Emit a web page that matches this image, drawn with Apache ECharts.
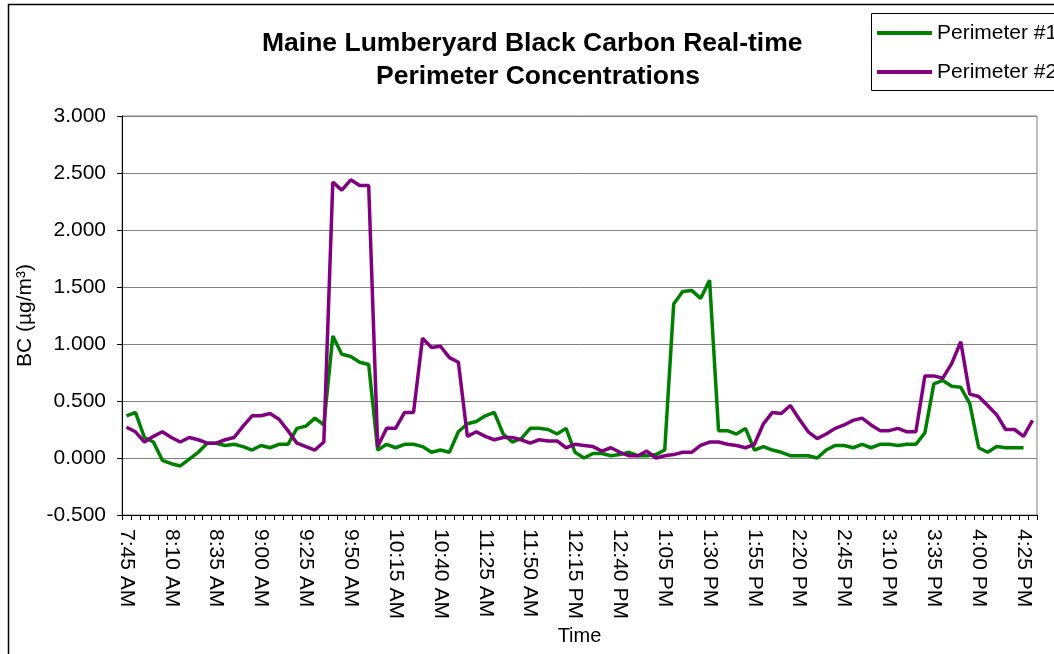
<!DOCTYPE html>
<html>
<head>
<meta charset="utf-8">
<script src="https://cdn.jsdelivr.net/npm/echarts@6/dist/echarts.min.js"></script>
<style>
  html, body { margin: 0; padding: 0; background: #fff; }
  #chart { width: 1054px; height: 654px; }
</style>
</head>
<body>
<div id="chart"></div>
<script>
var timeArr = ['7:45 AM','7:50 AM','7:55 AM','8:00 AM','8:05 AM','8:10 AM','8:15 AM','8:20 AM','8:25 AM','8:30 AM',
	'8:35 AM','8:40 AM','8:45 AM','8:50 AM','8:55 AM','9:00 AM','9:05 AM','9:10 AM','9:15 AM','9:20 AM',
	'9:25 AM','9:30 AM','9:35 AM','9:40 AM','9:45 AM','9:50 AM','9:55 AM','10:00 AM','10:05 AM','10:10 AM',
	'10:15 AM','10:20 AM','10:25 AM','10:30 AM','10:35 AM','10:40 AM','10:45 AM','11:10 AM','11:15 AM','11:20 AM',
	'11:25 AM','11:30 AM','11:35 AM','11:40 AM','11:45 AM','11:50 AM','11:55 AM','12:00 PM','12:05 PM','12:10 PM',
	'12:15 PM','12:20 PM','12:25 PM','12:30 PM','12:35 PM','12:40 PM','12:45 PM','12:50 PM','12:55 PM','1:00 PM',
	'1:05 PM','1:10 PM','1:15 PM','1:20 PM','1:25 PM','1:30 PM','1:35 PM','1:40 PM','1:45 PM','1:50 PM',
	'1:55 PM','2:00 PM','2:05 PM','2:10 PM','2:15 PM','2:20 PM','2:25 PM','2:30 PM','2:35 PM','2:40 PM',
	'2:45 PM','2:50 PM','2:55 PM','3:00 PM','3:05 PM','3:10 PM','3:15 PM','3:20 PM','3:25 PM','3:30 PM',
	'3:35 PM','3:40 PM','3:45 PM','3:50 PM','3:55 PM','4:00 PM','4:05 PM','4:10 PM','4:15 PM','4:20 PM',
	'4:25 PM','4:30 PM'];

// Perimeter #1 (green)
var perimeter1Arr = [0.37, 0.40, 0.18, 0.14, -0.02, -0.05, -0.07, -0.01, 0.05, 0.13,
	0.13, 0.11, 0.12, 0.10, 0.07, 0.11, 0.09, 0.12, 0.12, 0.26,
	0.28, 0.35, 0.29, 1.07, 0.91, 0.89, 0.84, 0.82, 0.07, 0.12,
	0.09, 0.12, 0.12, 0.10, 0.05, 0.07, 0.05, 0.23, 0.30, 0.32,
	0.37, 0.40, 0.21, 0.14, 0.17, 0.26, 0.26, 0.25, 0.21, 0.26,
	0.05, 0.00, 0.04, 0.04, 0.02, 0.03, 0.05, 0.02, 0.02, 0.03,
	0.07, 1.35, 1.46, 1.47, 1.40, 1.56, 0.24, 0.24, 0.21, 0.26,
	0.07, 0.10, 0.07, 0.05, 0.02, 0.02, 0.02, 0.00, 0.07, 0.11,
	0.11, 0.09, 0.12, 0.09, 0.12, 0.12, 0.11, 0.12, 0.12, 0.22,
	0.65, 0.68, 0.63, 0.62, 0.48, 0.09, 0.05, 0.10, 0.09, 0.09,
	0.09, null];

// Perimeter #2 (purple)
var perimeter2Arr = [0.27, 0.23, 0.14, 0.19, 0.23, 0.18, 0.14, 0.18, 0.16, 0.13,
	0.13, 0.16, 0.18, 0.28, 0.37, 0.37, 0.39, 0.34, 0.24, 0.13,
	0.10, 0.07, 0.14, 2.42, 2.35, 2.44, 2.39, 2.39, 0.10, 0.26,
	0.26, 0.40, 0.40, 1.05, 0.97, 0.98, 0.88, 0.84, 0.19, 0.23,
	0.19, 0.16, 0.18, 0.18, 0.16, 0.13, 0.16, 0.15, 0.15, 0.09,
	0.12, 0.11, 0.10, 0.06, 0.09, 0.05, 0.02, 0.02, 0.06, 0.00,
	0.02, 0.03, 0.05, 0.05, 0.11, 0.14, 0.14, 0.12, 0.11, 0.09,
	0.12, 0.30, 0.40, 0.39, 0.46, 0.34, 0.23, 0.17, 0.21, 0.26,
	0.29, 0.33, 0.35, 0.29, 0.24, 0.24, 0.26, 0.23, 0.23, 0.72,
	0.72, 0.70, 0.83, 1.02, 0.56, 0.54, 0.46, 0.38, 0.25, 0.25,
	0.19, 0.33];

var fontFam = '"Liberation Sans", Arial, sans-serif';

function chartMain () {
	var chart = echarts.init(document.getElementById('chart'));

	var titleStyle = {
		fontFamily: fontFam,
		fontSize: 26.5,
		fontWeight: 'bold',
		color: '#000'
	};

	var option = {
		backgroundColor: '#fff',
		animation: false,
		// two title lines, each centred on its own like the original
		title: [
			{
				text: 'Maine Lumberyard Black Carbon Real-time',
				left: 262,
				top: 30,
				padding: 0,
				textStyle: titleStyle
			},
			{
				text: 'Perimeter Concentrations',
				left: 376,
				top: 63,
				padding: 0,
				textStyle: titleStyle
			}
		],
		legend: {
			orient: 'vertical',
			left: 877,
			top: 21,
			padding: 0,
			icon: 'rect',
			itemWidth: 55,
			itemHeight: 4,
			itemGap: 15,
			textStyle: {
				fontFamily: fontFam,
				fontSize: 21,
				color: '#000',
				lineHeight: 24
			},
			data: ['Perimeter #1', 'Perimeter #2']
		},
		graphic: [
			{
				type: 'rect',
				shape: { x: 8.5, y: 4.5, width: 1100, height: 700 },
				style: { fill: 'none', stroke: '#000', lineWidth: 1.5 },
				silent: true
			},
			{
				type: 'rect',
				shape: { x: 871.5, y: 13.5, width: 300, height: 77 },
				style: { fill: 'none', stroke: '#000', lineWidth: 1 },
				silent: true
			}
		],
		grid: {
			left: 122,
			right: 17,
			top: 116,
			bottom: 139,
			show: true,
			borderColor: '#808080',
			borderWidth: 1,
			backgroundColor: '#fff'
		},
		xAxis: [
			{
				type: 'category',
				boundaryGap: true,
				data: timeArr,
				name: 'Time',
				nameLocation: 'middle',
				nameGap: 106,
				nameTextStyle: {
					fontFamily: fontFam,
					fontSize: 20,
					color: '#000'
				},
				axisLine: {
					onZero: false,
					lineStyle: { color: '#000', width: 1 }
				},
				axisTick: {
					show: true,
					interval: 0,
					length: 5,
					lineStyle: { color: '#000' }
				},
				axisLabel: {
					interval: 4,
					rotate: -90,
					margin: 14,
					fontFamily: fontFam,
					fontSize: 21,
					color: '#000'
				},
				splitLine: { show: false }
			}
		],
		yAxis: [
			{
				type: 'value',
				min: -0.5,
				max: 3,
				interval: 0.5,
				name: 'BC (µg/m³)',
				nameLocation: 'middle',
				nameGap: 78,
				nameTextStyle: {
					fontFamily: fontFam,
					fontSize: 21,
					color: '#000'
				},
				axisLine: {
					show: true,
					lineStyle: { color: '#000', width: 1 }
				},
				axisTick: {
					show: true,
					length: 5,
					lineStyle: { color: '#000' }
				},
				axisLabel: {
					margin: 16,
					fontFamily: fontFam,
					fontSize: 21,
					color: '#000',
					formatter: function (v) { return v.toFixed(3); }
				},
				splitLine: {
					show: true,
					lineStyle: { color: '#808080', width: 1 }
				}
			}
		],
		series: [
			{
				name: 'Perimeter #1',
				type: 'line',
				showSymbol: false,
				symbol: 'none',
				itemStyle: { color: '#008000' },
				lineStyle: { color: '#008000', width: 3.5 },
				data: perimeter1Arr
			},
			{
				name: 'Perimeter #2',
				type: 'line',
				showSymbol: false,
				symbol: 'none',
				itemStyle: { color: '#800080' },
				lineStyle: { color: '#800080', width: 3.5 },
				data: perimeter2Arr
			}
		]
	};

	chart.setOption(option);
}

chartMain();
</script>
</body>
</html>
